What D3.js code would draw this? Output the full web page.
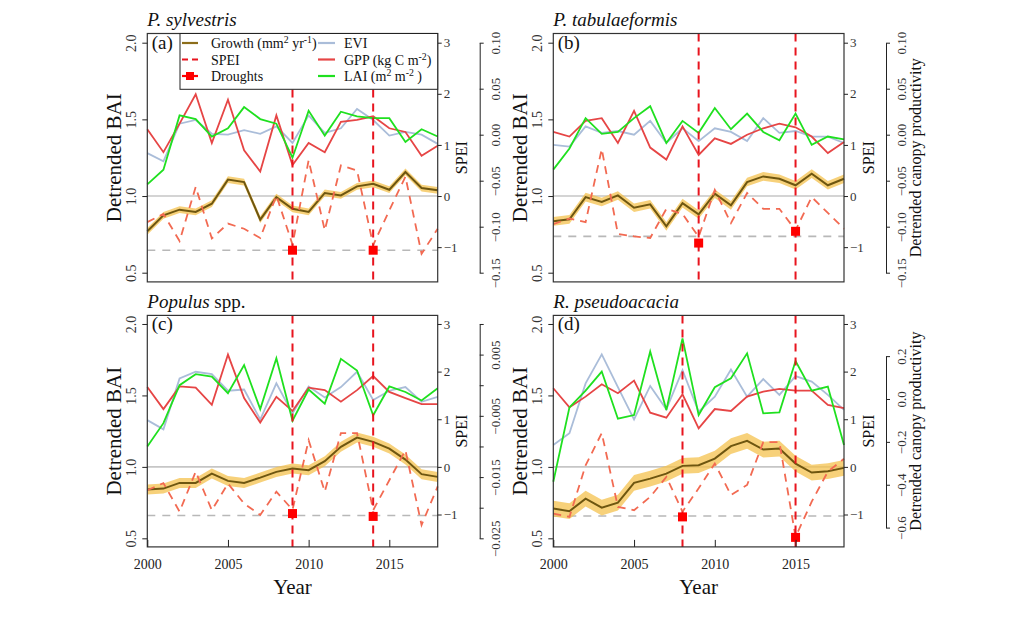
<!DOCTYPE html>
<html><head><meta charset="utf-8">
<script src="https://cdn.jsdelivr.net/npm/d3@7"></script>
<style>
body{margin:0;background:#fff;}
svg, svg text{font-family:"Liberation Serif","Times New Roman",serif;}
</style></head><body>
<svg id="chart" width="1009" height="625"></svg>
<script>
// ---------------- DATA ----------------
const years = [2000,2001,2002,2003,2004,2005,2006,2007,2008,2009,2010,2011,2012,2013,2014,2015,2016,2017,2018];
const xTicks = [2000,2005,2010,2015];
const baiTicks = [0.5,1.0,1.5,2.0];
const speiTicks = [-1,0,1,2,3];

// (a) P. sylvestris
const growthA = [0.770,0.874,0.911,0.896,0.950,1.107,1.091,0.846,0.993,0.917,0.896,1.020,1.004,1.063,1.080,1.041,1.157,1.052,1.037];
const speiA   = [-0.51,-0.35,-0.88,0.18,-0.83,-0.54,-0.64,-0.82,0.01,-0.95,0.70,-0.67,0.60,0.50,-0.96,-0.28,0.38,-1.13,-0.64];
const eviA    = [-0.020,-0.029,0.012,0.016,0.001,0.000,0.005,0.001,0.009,-0.009,0.021,0.002,0.007,0.028,0.016,-0.001,0.003,0.000,-0.010];
const gppA    = [0.006,-0.019,0.012,0.044,-0.009,0.038,-0.017,-0.040,0.021,-0.033,-0.009,-0.019,0.014,0.016,0.020,0.007,0.003,-0.023,-0.012];
const laiA    = [-0.054,-0.038,0.021,0.017,-0.002,0.007,0.030,0.017,0.012,-0.025,0.026,-0.001,0.025,0.020,0.018,0.018,-0.008,0.006,-0.002];
const bandA = 0.022;
const droughtYearsA = [2009,2014];
const droughtSpeiA  = [-1.06,-1.06];
const thresholdA = -1.06;
const canopyRangeA = [-0.15,0.10];
const canopyTicksA = [-0.15,-0.10,-0.05,0.00,0.05,0.10];
const canopyLabelsA = [-0.15,-0.10,-0.05,0.00,0.05,0.10];

// (b) P. tabulaeformis
const growthB = [0.835,0.848,0.993,0.961,1.004,0.924,0.946,0.802,0.954,0.880,1.015,0.939,1.091,1.128,1.113,1.070,1.146,1.070,1.113];
const speiB   = [-0.55,-0.44,-0.51,0.92,-0.74,-0.79,-0.82,-0.25,-0.35,-0.80,0.12,-0.53,0.06,-0.25,-0.25,-0.67,-0.02,-0.33,-0.64];
const eviB    = [-0.011,-0.013,0.009,0.002,0.004,0.000,0.015,-0.009,0.007,-0.007,0.007,0.003,-0.007,0.018,0.002,0.004,-0.002,-0.002,-0.009];
const gppB    = [0.003,-0.002,0.015,0.018,-0.009,0.026,-0.014,-0.027,0.009,-0.022,-0.004,-0.010,0.000,0.007,0.012,0.008,-0.002,-0.020,-0.008];
const laiB    = [-0.038,-0.015,0.018,0.001,0.003,0.018,0.031,-0.009,0.015,0.002,0.029,0.006,0.023,0.003,-0.006,0.023,-0.011,-0.002,-0.005];
const bandB = 0.028;
const droughtYearsB = [2009,2015];
const droughtSpeiB  = [-0.92,-0.69];
const thresholdB = -0.79;
const canopyRangeB = [-0.15,0.10];
const canopyTicksB = [-0.15,-0.10,-0.05,0.00,0.05,0.10];
const canopyLabelsB = [-0.15,-0.10,-0.05,0.00,0.05,0.10];

// (c) Populus spp.
const growthC = [0.841,0.848,0.888,0.888,0.953,0.902,0.888,0.925,0.965,0.988,0.977,1.040,1.140,1.205,1.175,1.128,1.051,0.949,0.930];
const speiC   = [-0.49,-0.34,-0.94,-0.10,-0.91,-0.35,-0.77,-1.01,-0.52,-0.90,0.56,-0.52,0.71,0.71,-0.91,-0.28,0.35,-1.22,-0.41];
const eviC    = [-0.0057,-0.0072,0.0011,0.0022,0.0018,-0.0009,-0.0007,-0.0056,0.0003,-0.0046,-0.0002,-0.0020,-0.0003,0.0022,-0.0024,-0.0009,-0.0003,-0.0027,-0.0019];
const gppC    = [-0.0003,-0.0039,-0.0002,-0.0004,-0.0032,0.0050,-0.0021,-0.0061,-0.0019,-0.0042,-0.0004,-0.0008,-0.0027,-0.0008,0.0015,-0.0011,-0.0021,-0.0031,-0.0031];
const laiC    = [-0.0100,-0.0062,0.0000,0.0018,0.0014,-0.0013,0.0033,-0.0039,0.0044,-0.0058,-0.0007,-0.0030,0.0043,0.0024,-0.0049,-0.0002,-0.0011,-0.0025,-0.0005];
const bandC = 0.035;
const droughtYearsC = [2009,2014];
const droughtSpeiC  = [-0.98,-1.04];
const thresholdC = -1.02;
const canopyRangeC = [-0.025,0.010];
const canopyTicksC = [-0.025,-0.020,-0.015,-0.010,-0.005,0.000,0.005,0.010];
const canopyLabelsC = [-0.025,-0.015,-0.005,0.005];

// (d) R. pseudoacacia
const growthD = [0.708,0.690,0.778,0.715,0.750,0.888,0.918,0.953,1.007,1.012,1.058,1.145,1.182,1.121,1.128,1.023,0.960,0.970,0.993];
const speiD   = [-0.98,-1.05,0.03,0.71,-0.84,-0.91,-0.63,-0.21,-0.94,-0.45,0.07,-0.59,-0.38,0.52,0.52,-1.47,-0.73,-0.10,0.17];
const eviD    = [-0.215,-0.160,0.073,0.208,0.055,-0.095,0.061,-0.048,0.135,-0.059,0.011,0.138,0.011,0.093,0.019,0.107,0.081,0.019,-0.051];
const gppD    = [0.050,-0.039,0.011,0.069,0.027,0.086,-0.064,-0.087,0.022,-0.137,-0.047,-0.056,0.011,0.034,0.047,0.039,0.039,-0.028,-0.043];
const laiD    = [-0.386,-0.039,0.039,0.128,-0.092,-0.075,0.221,-0.051,0.283,-0.075,0.055,0.097,0.213,-0.067,-0.062,0.177,0.039,0.058,-0.215];
const bandD = 0.055;
const droughtYearsD = [2008,2015];
const droughtSpeiD  = [-1.05,-1.48];
const thresholdD = -1.03;
const canopyRangeD = [-0.65,0.35];
const canopyTicksD = [-0.6,-0.4,-0.2,0.0,0.2];
const canopyLabelsD = [-0.6,-0.4,-0.2,0.0,0.2];

// ---------------- LAYOUT / STYLE ----------------
const FONT = '"Liberation Serif","Times New Roman",serif';
const COL = {evi:"#aabdd9", gpp:"#e64545", lai:"#1fe01f", growth:"#6e5610", band:"#f4c24e",
             spei:"#f26a52", drought:"#e8141e", square:"#ff0000", grey:"#c6c6c6", thr:"#b8b8b8", ink:"#222"};

const panels = [
  {key:"a", label:"(a)", title:[{t:"P. sylvestris",i:true}], growth:growthA, spei:speiA, evi:eviA, gpp:gppA, lai:laiA, band:bandA,
   dYears:droughtYearsA, dSpei:droughtSpeiA, thr:thresholdA, cRange:canopyRangeA, cTicks:canopyTicksA, cLabels:canopyLabelsA, cFmt:".2f",
   L:{left:147.3,right:437.7,top:33.5,bottom:281.9}, xAxis:false, cTitle:false, legend:true},
  {key:"b", label:"(b)", title:[{t:"P. tabulaeformis",i:true}], growth:growthB, spei:speiB, evi:eviB, gpp:gppB, lai:laiB, band:bandB,
   dYears:droughtYearsB, dSpei:droughtSpeiB, thr:thresholdB, cRange:canopyRangeB, cTicks:canopyTicksB, cLabels:canopyLabelsB, cFmt:".2f",
   L:{left:553.3,right:844,top:33.5,bottom:281.9}, xAxis:false, cTitle:true, legend:false},
  {key:"c", label:"(c)", title:[{t:"Populus",i:true},{t:" spp."}], growth:growthC, spei:speiC, evi:eviC, gpp:gppC, lai:laiC, band:bandC,
   dYears:droughtYearsC, dSpei:droughtSpeiC, thr:thresholdC, cRange:canopyRangeC, cTicks:canopyTicksC, cLabels:canopyLabelsC, cFmt:".3f",
   L:{left:147.3,right:437.7,top:315.4,bottom:546.9}, xAxis:true, cTitle:false, legend:false},
  {key:"d", label:"(d)", title:[{t:"R. pseudoacacia",i:true}], growth:growthD, spei:speiD, evi:eviD, gpp:gppD, lai:laiD, band:bandD,
   dYears:droughtYearsD, dSpei:droughtSpeiD, thr:thresholdD, cRange:canopyRangeD, cTicks:canopyTicksD, cLabels:canopyLabelsD, cFmt:".1f",
   L:{left:553.3,right:844,top:315.4,bottom:546.9}, xAxis:true, cTitle:true, legend:false}
];

const svg = d3.select("#chart");

// text with superscripts: the baseline shift is undone on the next normal run
function rich(sel, parts, size){
  let raised = 0;
  parts.forEach(p=>{
    const ts = sel.append("tspan").text(p.t);
    if(p.sup){
      ts.attr("dy",-5 - raised).attr("font-size",size*0.7);
      raised = 5;
    } else {
      if(raised){ ts.attr("dy",raised); raised = 0; }
      ts.attr("font-size",size);
      if(p.i) ts.attr("font-style","italic");
    }
  });
}

function drawPanel(p){
  const L = p.L;
  const g = svg.append("g");
  const x  = d3.scaleLinear().domain([2000,2018]).range([L.left,L.right]);
  const y  = d3.scaleLinear().domain([0.44,2.06]).range([L.bottom,L.top]);
  const ys = d3.scaleLinear().domain([3*(0.44-1),3*(2.06-1)]).range([L.bottom,L.top]);
  const [lo,hi] = p.cRange, pad=(hi-lo)*0.04;
  const yc = d3.scaleLinear().domain([lo-pad,hi+pad]).range([L.bottom,L.top]);

  // reference lines
  g.append("line").attr("x1",L.left).attr("x2",L.right).attr("y1",y(1)).attr("y2",y(1))
    .attr("stroke",COL.grey).attr("stroke-width",1.6);
  g.append("line").attr("x1",L.left).attr("x2",L.right).attr("y1",ys(p.thr)).attr("y2",ys(p.thr))
    .attr("stroke",COL.thr).attr("stroke-width",1.6).attr("stroke-dasharray","8,7");

  const mk = sc => d3.line().x((d,i)=>x(years[i])).y(d=>sc(d));
  [[p.evi,COL.evi],[p.gpp,COL.gpp],[p.lai,COL.lai]].forEach(([arr,c])=>{
    g.append("path").datum(arr).attr("d",mk(yc)).attr("fill","none").attr("stroke",c)
      .attr("stroke-width",1.8).attr("stroke-linejoin","miter");
  });

  // growth band + line
  const area = d3.area().x((d,i)=>x(years[i])).y0(d=>y(d-p.band)).y1(d=>y(d+p.band));
  g.append("path").datum(p.growth).attr("d",area).attr("fill",COL.band).attr("opacity",0.75);
  g.append("path").datum(p.growth).attr("d",mk(y)).attr("fill","none").attr("stroke",COL.growth).attr("stroke-width",2);

  // SPEI
  g.append("path").datum(p.spei).attr("d",mk(ys)).attr("fill","none").attr("stroke",COL.spei)
    .attr("stroke-width",1.8).attr("stroke-dasharray","8,6");

  // drought lines
  p.dYears.forEach(yr=>{
    g.append("line").attr("x1",x(yr)).attr("x2",x(yr)).attr("y1",L.top).attr("y2",L.bottom)
      .attr("stroke",COL.drought).attr("stroke-width",2).attr("stroke-dasharray","8,6");
  });
  p.dYears.forEach((yr,i)=>{
    g.append("rect").attr("x",x(yr)-4.5).attr("y",ys(p.dSpei[i])-4.5).attr("width",9).attr("height",9).attr("fill",COL.square);
  });

  // box
  g.append("rect").attr("x",L.left).attr("y",L.top).attr("width",L.right-L.left).attr("height",L.bottom-L.top)
    .attr("fill","none").attr("stroke","#333").attr("stroke-width",1.2);

  // left axis (BAI)
  const ax = g.append("g").attr("transform",`translate(${L.left},0)`)
    .call(d3.axisLeft(y).tickValues(baiTicks).tickSize(5).tickFormat(d3.format(".1f")));
  ax.attr("font-family",FONT);
  ax.select(".domain").remove();
  ax.selectAll("line").attr("stroke",COL.ink);
  ax.selectAll("text").attr("x",0).attr("dy",0).attr("text-anchor","middle")
    .attr("transform","translate(-11,0) rotate(-90)").attr("font-size",14).attr("fill","#333");
  g.append("text").attr("transform",`translate(${L.left-26.5},${(L.top+L.bottom)/2}) rotate(-90)`)
    .attr("text-anchor","middle").attr("font-size",21).attr("fill","#111").text("Detrended BAI");

  // right axis (SPEI)
  const as = g.append("g").attr("transform",`translate(${L.right},0)`)
    .call(d3.axisRight(ys).tickValues(speiTicks).tickSize(4).tickPadding(2).tickFormat(d3.format("d")));
  as.attr("font-family",FONT);
  as.select(".domain").remove();
  as.selectAll("line").attr("stroke",COL.ink);
  as.selectAll("text").attr("font-size",13).attr("fill","#333");
  g.append("text").attr("transform",`translate(${L.right+29.5},${(L.top+L.bottom)/2}) rotate(-90)`)
    .attr("text-anchor","middle").attr("font-size",16).attr("fill","#111").text("SPEI");

  // canopy axis
  const cx = L.right+42;
  const tmin = d3.min(p.cTicks), tmax = d3.max(p.cTicks);
  const yct = d3.scaleLinear().domain([tmin,tmax]).range([yc(tmin),yc(tmax)]);
  const fmt = d3.format(p.cFmt);
  const ac = g.append("g").attr("transform",`translate(${cx},0)`)
    .call(d3.axisRight(yct).tickValues(p.cTicks).tickSize(4).tickSizeOuter(0)
      .tickFormat(d=> p.cLabels.some(v=>Math.abs(v-d)<1e-9) ? fmt(d) : ""));
  ac.attr("font-family",FONT);
  ac.selectAll("line,path").attr("stroke",COL.ink);
  ac.selectAll("text").attr("x",0).attr("dy",0).attr("text-anchor","middle")
    .attr("transform","translate(20,0) rotate(-90)").attr("font-size",13).attr("fill","#333");
  if(p.cTitle){
    g.append("text").attr("transform",`translate(${cx+34.5},${(L.top+L.bottom)/2}) rotate(-90)`)
      .attr("text-anchor","middle").attr("font-size",16).attr("fill","#111").text("Detrended canopy productivity");
  }

  // x axis
  if(p.xAxis){
    const axx = g.append("g").attr("transform",`translate(0,${L.bottom})`)
      .call(d3.axisBottom(x).tickValues(xTicks).tickSize(-7).tickSizeOuter(0).tickPadding(12).tickFormat(d3.format("d")));
    axx.attr("font-family",FONT);
    axx.select(".domain").remove();
    axx.selectAll("line").attr("stroke",COL.ink);
    axx.selectAll("text").attr("font-size",14).attr("fill","#222");
    g.append("text").attr("x",(L.left+L.right)/2).attr("y",L.bottom+47).attr("text-anchor","middle")
      .attr("font-size",21).attr("fill","#111").text("Year");
  }

  // title & label
  const t = g.append("text").attr("x",L.left).attr("y",L.top-7.5).attr("font-size",19).attr("fill","#111");
  rich(t,p.title,19);
  g.append("text").attr("x",L.left+4.5).attr("y",L.top+15).attr("font-size",19).attr("fill","#111").text(p.label);

  if(p.legend) drawLegend(g,L);
}

function drawLegend(g,L){
  const lx0 = 180, ly0 = L.top, lx1 = L.right, ly1 = 89.3;
  g.append("rect").attr("x",lx0).attr("y",ly0).attr("width",lx1-lx0).attr("height",ly1-ly0)
    .attr("fill","#fff").attr("stroke","#222").attr("stroke-width",1);
  const rows = [43,59.5,76];
  const fs = 14;
  const items = [
    {col:0,row:0,type:"line",color:"#8c6d1a",dash:null,parts:[{t:"Growth (mm"},{t:"2",sup:true},{t:" yr"},{t:"-1",sup:true},{t:")"}]},
    {col:0,row:1,type:"line",color:COL.drought,dash:"6,4",parts:[{t:"SPEI"}]},
    {col:0,row:2,type:"square",color:COL.square,dash:null,parts:[{t:"Droughts"}]},
    {col:1,row:0,type:"line",color:COL.evi,dash:null,parts:[{t:"EVI"}]},
    {col:1,row:1,type:"line",color:COL.gpp,dash:null,parts:[{t:"GPP (kg C m"},{t:"-2",sup:true},{t:")"}]},
    {col:1,row:2,type:"line",color:COL.lai,dash:null,parts:[{t:"LAI (m"},{t:"2",sup:true},{t:" m"},{t:"-2",sup:true},{t:" )"}]}
  ];
  const colX = [{s0:182,s1:198,tx:211},{s0:318,s1:335,tx:344}];
  items.forEach(it=>{
    const c = colX[it.col], yy = rows[it.row];
    const ln = g.append("line").attr("x1",c.s0).attr("x2",c.s1).attr("y1",yy).attr("y2",yy)
      .attr("stroke",it.color).attr("stroke-width",2.2);
    if(it.dash) ln.attr("stroke-dasharray",it.dash);
    if(it.type==="square"){
      g.append("rect").attr("x",(c.s0+c.s1)/2-4).attr("y",yy-4).attr("width",8).attr("height",8).attr("fill",it.color);
    }
    const tx = g.append("text").attr("x",c.tx).attr("y",yy+5).attr("font-size",fs).attr("fill","#111");
    rich(tx,it.parts,fs);
  });
}

panels.forEach(drawPanel);
</script>
</body></html>
